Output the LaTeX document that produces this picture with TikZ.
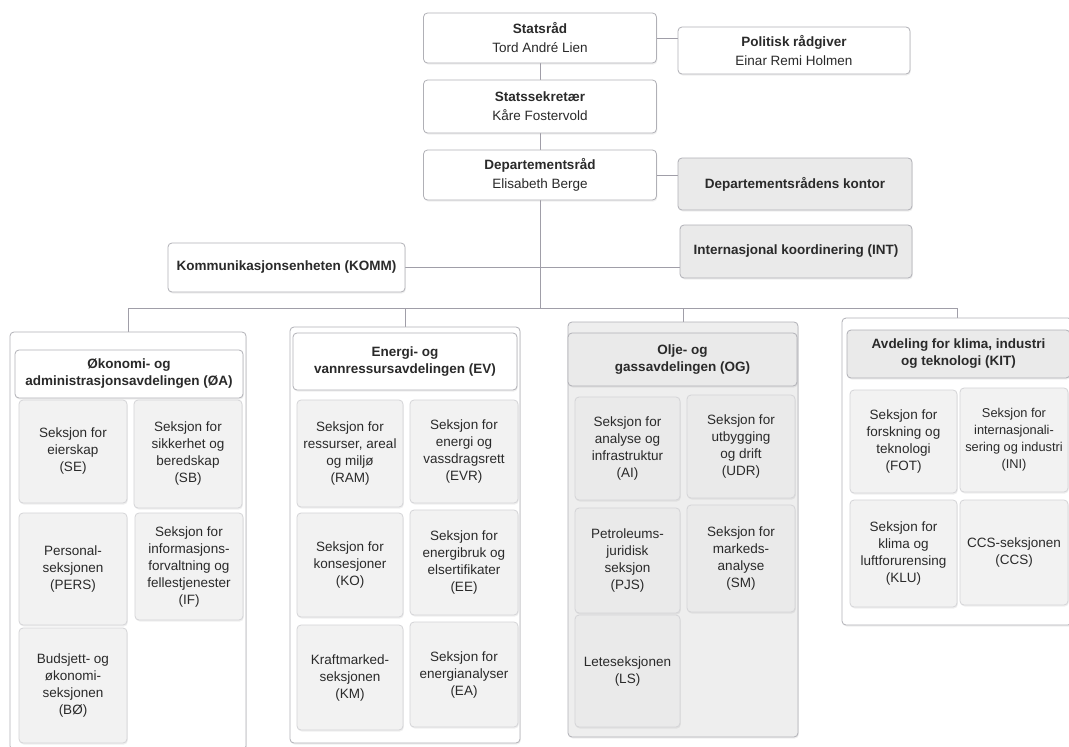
\documentclass[tikz,border=0pt]{standalone}
\usepackage{fontspec}
\setmainfont{Liberation Sans}
\usetikzlibrary{shadows}
\pgfdeclarelayer{background}
\pgfsetlayers{background,main}
\definecolor{bord}{HTML}{B0B0B6}
\definecolor{linec}{HTML}{A09EA8}
\definecolor{gfill}{HTML}{EAEAEA}
\definecolor{sfill}{HTML}{F2F2F2}
\definecolor{ogfill}{HTML}{EEEEEE}
\definecolor{txt}{HTML}{2A2A2A}
\begin{document}
\begin{tikzpicture}[x=1pt,y=-1pt,
  base/.style={rounded corners=4pt, draw=bord, line width=0.8pt, align=center, text=txt, inner sep=2pt,
    drop shadow={opacity=0.12, shadow xshift=0.8pt, shadow yshift=-1.5pt}},
  sz/.style 2 args={minimum width=#1pt, minimum height=#2pt},
  wbox/.style={base, fill=white, font=\fontsize{13.5}{19}\selectfont},
  gbox/.style={wbox, fill=gfill},
  dept/.style={base, fill=white},
  hdr/.style={base, fill=white, font=\bfseries\fontsize{13.5}{17}\selectfont},
  ghdr/.style={hdr, fill=gfill},
  sec/.style={base, fill=sfill, draw=bord!55, font=\fontsize{13.5}{17}\selectfont},
  gsec/.style={sec, fill=gfill},
  conn/.style={draw=linec, line width=0.9pt}
]
\useasboundingbox (0,0) rectangle (1069,747);

% top boxes
\node[wbox, sz={233}{50}] (statsrad) at (540,38) {\textbf{Statsråd}\\Tord André Lien};
\node[wbox, sz={232}{47}] (politisk) at (794,50.5) {\textbf{Politisk rådgiver}\\Einar Remi Holmen};
\node[wbox, sz={233}{53}] (statssek) at (540,106.5) {\textbf{Statssekretær}\\Kåre Fostervold};
\node[wbox, sz={233}{50}] (deptrad) at (540,175) {\textbf{Departementsråd}\\Elisabeth Berge};
\node[gbox, sz={234}{52}] (kontor) at (795,184) {\textbf{Departementsrådens kontor}};
\node[gbox, sz={232}{53}] (int) at (796,251.5) {\textbf{Internasjonal koordinering (INT)}};
\node[wbox, sz={237}{49}] (komm) at (286.5,267.5) {\textbf{Kommunikasjonsenheten (KOMM)}};

% departments (outer)
\node[dept, sz={236}{418}] (oa) at (128,541) {};
\node[dept, sz={230}{416}] (ev) at (405,535) {};
\node[dept, fill=ogfill, sz={230}{415}] (og) at (683,529.5) {};
\node[dept, sz={230}{307}] (kit) at (957,471.5) {};

% headers
\node[hdr, sz={228}{48}] (oah) at (129,374) {Økonomi- og\\administrasjonsavdelingen (ØA)};
\node[hdr, sz={224}{57}] (evh) at (405,361.5) {Energi- og\\vannressursavdelingen (EV)};
\node[ghdr, sz={229}{53}] (ogh) at (682.5,359.5) {Olje- og\\gassavdelingen (OG)};
\node[ghdr, sz={223}{48}] (kith) at (958.5,354) {Avdeling for klima, industri\\og teknologi (KIT)};

% OA sections
\node[sec, sz={108}{103}] (se) at (73,451.5) {Seksjon for\\eierskap\\(SE)};
\node[sec, sz={108}{108}] (sb) at (188,454) {Seksjon for\\sikkerhet og\\beredskap\\(SB)};
\node[sec, sz={108}{112}] (pers) at (73,569) {Personal-\\seksjonen\\(PERS)};
\node[sec, sz={108}{107}] (if) at (189,566.5) {Seksjon for\\informasjons-\\forvaltning og\\fellestjenester\\(IF)};
\node[sec, sz={108}{115}] (bo) at (73,685.5) {Budsjett- og\\økonomi-\\seksjonen\\(BØ)};

% EV sections
\node[sec, sz={106}{107}] (ram) at (350,453.5) {Seksjon for\\ressurser, areal\\og miljø\\(RAM)};
\node[sec, sz={108}{103}] (evr) at (464,451.5) {Seksjon for\\energi og\\vassdragsrett\\(EVR)};
\node[sec, sz={106}{104}] (ko) at (350,565) {Seksjon for\\konsesjoner\\(KO)};
\node[sec, sz={108}{105}] (ee) at (464,562.5) {Seksjon for\\energibruk og\\elsertifikater\\(EE)};
\node[sec, sz={106}{105}] (km) at (350,677.5) {Kraftmarked-\\seksjonen\\(KM)};
\node[sec, sz={108}{105}] (ea) at (464,674.5) {Seksjon for\\energianalyser\\(EA)};

% OG sections
\node[gsec, sz={105}{103}] (ai) at (627.5,448.5) {Seksjon for\\analyse og\\infrastruktur\\(AI)};
\node[gsec, sz={108}{103}] (udr) at (741,446.5) {Seksjon for\\utbygging\\og drift\\(UDR)};
\node[gsec, sz={105}{105}] (pjs) at (627.5,560.5) {Petroleums-\\juridisk\\seksjon\\(PJS)};
\node[gsec, sz={108}{107}] (sm) at (741,558.5) {Seksjon for\\markeds-\\analyse\\(SM)};
\node[gsec, sz={105}{112}] (ls) at (627.5,671) {Leteseksjonen\\(LS)};

% KIT sections
\node[sec, sz={107}{103}] (fot) at (903.5,441.5) {Seksjon for\\forskning og\\teknologi\\(FOT)};
\node[sec, sz={108}{104}, font=\fontsize{12.8}{17}\selectfont] (ini) at (1014,440) {Seksjon for\\internasjonali-\\sering og industri\\(INI)};
\node[sec, sz={107}{107}] (klu) at (903.5,553.5) {Seksjon for\\klima og\\luftforurensing\\(KLU)};
\node[sec, sz={108}{105}] (ccs) at (1014,552.5) {CCS-seksjonen\\(CCS)};

% connectors
\coordinate (bus) at (540,308);
\begin{pgfonlayer}{background}
\fill[white] (0,0) rectangle (1069,747);
\draw[conn] (statsrad) -- (statssek);
\draw[conn] (statssek) -- (deptrad);
\draw[conn] (statsrad.east) -- (statsrad.east -| politisk.west);
\draw[conn] (deptrad.east) -- (deptrad.east -| kontor.west);
\draw[conn] (deptrad.south) -- (bus);
\draw[conn] (komm.east) -- (komm.east -| int.west);
\draw[conn] (oa.north |- bus) -- (kit.north |- bus);
\draw[conn] (oa.north |- bus) -- (oa.north);
\draw[conn] (ev.north |- bus) -- (ev.north);
\draw[conn] (og.north |- bus) -- (og.north);
\draw[conn] (kit.north |- bus) -- (kit.north);
\end{pgfonlayer}
\end{tikzpicture}
\end{document}
